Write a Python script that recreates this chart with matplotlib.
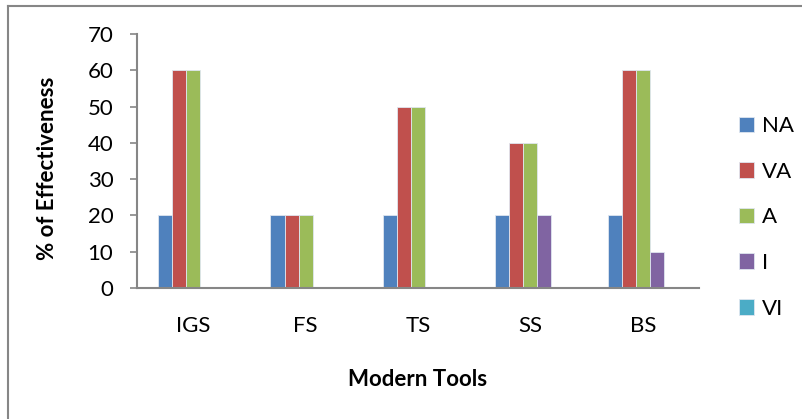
import numpy as np
import matplotlib
matplotlib.use('Agg')
from matplotlib import pyplot as plt
from matplotlib.lines import Line2D

categories = ['IGS', 'FS', 'TS', 'SS', 'BS']
series_names = ['NA', 'VA', 'A', 'I', 'VI']
na = [20, 20, 20, 20, 20]
va = [60, 20, 50, 40, 60]
a = [60, 20, 50, 40, 60]
i_vals = [0, 0, 0, 20, 10]
vi = [0, 0, 0, 0, 0]
colors = ['#4F81BD', '#C0504D', '#9BBB59', '#8064A2', '#4BACC6']

plt.rcParams['font.family'] = ['Lato', 'DejaVu Sans']

fig = plt.figure(figsize=(8.02, 4.19), dpi=100)
ax = fig.add_axes([137 / 802, 1 - 288 / 419, 562 / 802, 254 / 419])

x = np.arange(len(categories))
w = 0.125
for k, (name, vals) in enumerate(zip(series_names, [na, va, a, i_vals, vi])):
    ax.bar(x + (k - 2) * w, vals, width=w, color=colors[k], label=name,
           edgecolor='#dfe6f0', linewidth=0.6)

ax.set_xlim(-0.5, len(categories) - 0.5)
ax.set_ylim(0, 70)
ax.set_yticks(range(0, 71, 10))
ax.set_xticks(x)
ax.set_xticklabels(categories)
ax.tick_params(axis='x', length=0, pad=20, labelsize=16)
ax.tick_params(axis='y', length=5, width=1.2, color='#868686', pad=12, labelsize=16)

for s in ['top', 'right']:
    ax.spines[s].set_visible(False)
for s in ['left', 'bottom']:
    ax.spines[s].set_color('#868686')
    ax.spines[s].set_linewidth(1.5)

ax.set_ylabel('% of Effectiveness', fontsize=16, fontweight='bold')
ax.yaxis.set_label_coords(-0.141, 0.472)
ax.set_xlabel('Modern Tools', fontsize=16, fontweight='bold', labelpad=24)

leg = ax.legend(loc='upper left', bbox_to_anchor=(1.071, 0.676), frameon=False,
                fontsize=16, handlelength=0.7, handleheight=0.7, handletextpad=0.35,
                labelspacing=1.15, borderaxespad=0, borderpad=0)

# outer chart frame (top and left edges)
fig.add_artist(Line2D([8 / 802, 8 / 802], [0, 1 - 6 / 419], color='#868686', lw=1.5))
fig.add_artist(Line2D([8 / 802, 1], [1 - 6 / 419, 1 - 6 / 419], color='#868686', lw=1.5))

fig.savefig('out.png', dpi=100)
